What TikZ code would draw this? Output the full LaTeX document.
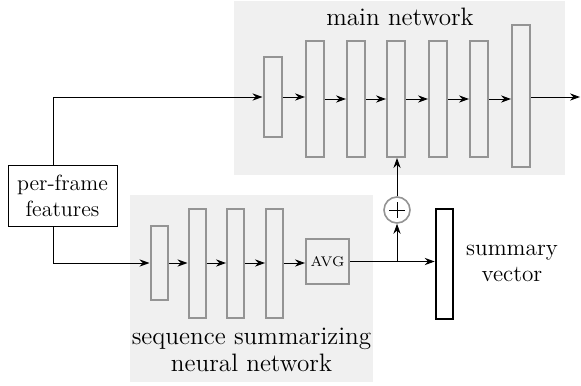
\documentclass[tikz,border=0pt]{standalone}
\usetikzlibrary{arrows.meta,calc}
\begin{document}
\begin{tikzpicture}[x=0.5pt,y=-0.5pt,
  every node/.style={font=\fontsize{11}{13}\selectfont},
  bigtext/.style={font=\fontsize{12.6}{13.2}\selectfont},
  bg/.style={fill=black!6, draw=none, inner sep=0},
  layer/.style={draw=black!42, line width=1pt, minimum width=9pt, inner sep=0},
  conn/.style={-{Stealth[length=5pt,width=3.6pt]}, line width=0.5pt},
  plain/.style={line width=0.5pt}]
\useasboundingbox (0,0) rectangle (581,385);
% backgrounds
\node[bg, minimum width=165.5pt, minimum height=87pt] (mainbg) at (399.5,88) {};
\node[bg, minimum width=121.5pt, minimum height=93.5pt] (seqbg) at (251.5,288.5) {};
% labels
\node[bigtext] (mainlbl) at (400,17) {main network};
\node[bigtext, align=center] (seqlbl) at (251.5,350) {sequence summarizing\\neural network};
% main network layers
\node[layer, minimum height=40pt] (m1) at (272.5,97) {};
\node[layer, minimum height=58pt] (m2) at (315,99) {};
\node[layer, minimum height=58pt] (m3) at (356,99) {};
\node[layer, minimum height=58pt] (m4) at (396,99) {};
\node[layer, minimum height=58pt] (m5) at (438,99) {};
\node[layer, minimum height=58pt] (m6) at (479,99) {};
\node[layer, minimum height=71pt] (m7) at (521,96) {};
\coordinate (out) at (580,97);
% sequence network layers
\node[layer, minimum width=8.5pt, minimum height=37pt] (s1) at (159,263) {};
\node[layer, minimum width=8.5pt, minimum height=54.5pt] (s2) at (197,263.5) {};
\node[layer, minimum width=8.5pt, minimum height=54.5pt] (s3) at (235.5,263.5) {};
\node[layer, minimum width=8.5pt, minimum height=54.5pt] (s4) at (274.5,263.5) {};
\node[layer, minimum width=21.5pt, minimum height=22.5pt, font=\fontsize{7}{8}\selectfont] (avg) at (327.5,261.5) {AVG};
% per-frame features
\node[draw, line width=0.5pt, minimum width=54.5pt, minimum height=30.5pt, align=center, inner sep=1pt] (pf) at (62.5,195.5) {per-frame\\features};
% summary vector
\node[draw=black, line width=1.3pt, minimum width=8.5pt, minimum height=55pt, inner sep=0] (sv) at (444.5,264) {};
\node[align=center, font=\fontsize{11.6}{13}\selectfont] (svlbl) at (512,263) {summary\\vector};
% oplus
\node[circle, draw=black!42, line width=0.8pt, minimum size=13pt, inner sep=0] (op) at (397,210) {};
\draw[line width=0.5pt] ($(op.center)+(-8,0)$) -- ($(op.center)+(8,0)$) ($(op.center)+(0,-8)$) -- ($(op.center)+(0,8)$);
\coordinate (jn) at (397,262);
% connections main
\draw[conn] ($(pf.north)+(-9.5,0)$) |- (m1.west);
\foreach \a/\b in {m1/m2,m2/m3,m3/m4,m4/m5,m5/m6,m6/m7}{\draw[conn] (\a.east) -- (\b.west|-\a.east);}
\draw[conn] (m7.east|-out) -- (out);
% connections sequence
\draw[conn] ($(pf.south)+(-9.5,0)$) |- (s1.west);
\foreach \a/\b in {s1/s2,s2/s3,s3/s4,s4/avg}{\draw[conn] (\a.east|-s1.west) -- (\b.west|-s1.west);}
\draw[conn] (avg.east) -- (sv.west|-avg.east);
\draw[conn] (jn) -- (op.south);
\draw[conn] (op.north) -- (op.north|-m4.south);
\end{tikzpicture}
\end{document}
